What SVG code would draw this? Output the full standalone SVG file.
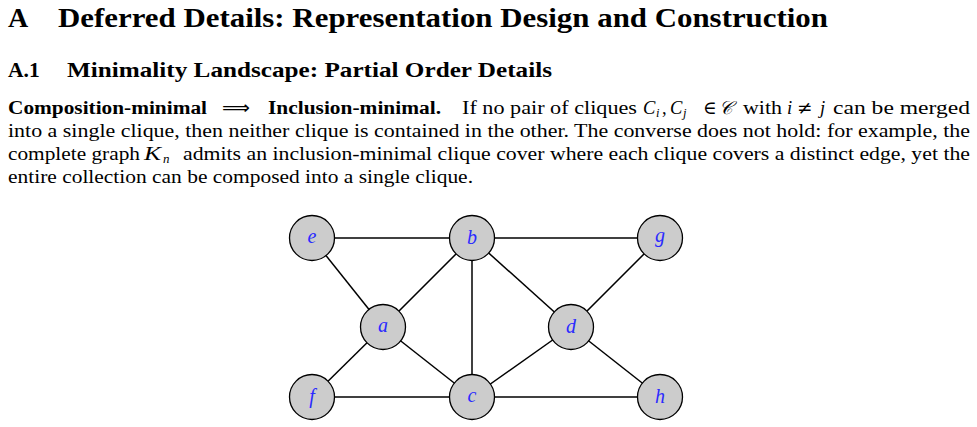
<svg xmlns="http://www.w3.org/2000/svg" width="977" height="427" viewBox="0 0 977 427">
<style>
.h1{font-family:"Liberation Serif",serif;font-weight:bold;font-size:28px;fill:#000}
.h2{font-family:"Liberation Serif",serif;font-weight:bold;font-size:21.5px;fill:#000}
.p{font-family:"Liberation Serif",serif;font-size:18.5px;fill:#000}
.b{font-weight:bold}
.m{font-style:italic}
.node circle{fill:#cccccc;stroke:#000;stroke-width:1.3}
.node text{font-family:"Liberation Serif",serif;font-style:italic;font-size:20px;fill:#2a2aff;text-anchor:middle}
.edges line{stroke:#000;stroke-width:1.5}
</style>
<rect width="977" height="427" fill="#fff"/>
<text class="h1" x="8" y="27">A</text>
<text class="h1" x="58" y="27" textLength="770" lengthAdjust="spacingAndGlyphs">Deferred Details: Representation Design and Construction</text>
<text class="h2" x="8" y="77">A.1</text>
<text class="h2" x="67" y="77" textLength="485" lengthAdjust="spacingAndGlyphs">Minimality Landscape: Partial Order Details</text>

<text class="p b" x="8" y="114" textLength="199" lengthAdjust="spacingAndGlyphs">Composition-minimal</text>
<text class="p" x="222" y="114" style="font-family:'DejaVu Sans',sans-serif" textLength="28" lengthAdjust="spacingAndGlyphs">⟹</text>
<text class="p b" x="268" y="114" textLength="173" lengthAdjust="spacingAndGlyphs">Inclusion-minimal.</text>
<text class="p" x="462" y="114" textLength="175" lengthAdjust="spacingAndGlyphs">If no pair of cliques</text>
<text class="p" y="114"><tspan class="m" x="643">C</tspan><tspan class="m" font-size="12.5" x="656" dy="3">i</tspan><tspan x="662" dy="-3">,</tspan><tspan class="m" x="670">C</tspan><tspan class="m" font-size="12.5" x="683" dy="3">j</tspan></text>
<text class="p" x="703" y="114" style="font-family:'DejaVu Serif',serif">∈</text>
<text class="p m" x="719" y="114" style="font-family:'DejaVu Serif',serif">𝒞</text>
<text class="p" x="743" y="114" textLength="39" lengthAdjust="spacingAndGlyphs">with</text>
<text class="p m" x="787" y="114">i</text>
<text class="p" x="797" y="114" style="font-family:'DejaVu Serif',serif">≠</text>
<text class="p m" x="820" y="114">j</text>
<text class="p" x="833" y="114" textLength="137" lengthAdjust="spacingAndGlyphs">can be merged</text>

<text class="p" x="8" y="137" textLength="962" lengthAdjust="spacingAndGlyphs">into a single clique, then neither clique is contained in the other. The converse does not hold: for example, the</text>
<text class="p" x="8" y="160" textLength="132" lengthAdjust="spacingAndGlyphs">complete graph</text>
<text class="p m" y="160"><tspan x="144" textLength="17" lengthAdjust="spacingAndGlyphs">K</tspan><tspan x="163" dy="3" font-size="13">n</tspan></text>
<text class="p" x="183" y="160" textLength="787" lengthAdjust="spacingAndGlyphs">admits an inclusion-minimal clique cover where each clique covers a distinct edge, yet the</text>
<text class="p" x="8" y="183" textLength="465" lengthAdjust="spacingAndGlyphs">entire collection can be composed into a single clique.</text>

<g id="edges" class="edges">
<line x1="312" y1="238" x2="472" y2="238"/>
<line x1="472" y1="238" x2="660" y2="238"/>
<line x1="312" y1="238" x2="383" y2="327"/>
<line x1="383" y1="327" x2="472" y2="238"/>
<line x1="472" y1="238" x2="472" y2="397"/>
<line x1="472" y1="238" x2="571" y2="327"/>
<line x1="660" y1="238" x2="571" y2="327"/>
<line x1="383" y1="327" x2="312" y2="397"/>
<line x1="383" y1="327" x2="472" y2="397"/>
<line x1="312" y1="397" x2="472" y2="397"/>
<line x1="472" y1="397" x2="571" y2="327"/>
<line x1="571" y1="327" x2="660" y2="397"/>
<line x1="472" y1="397" x2="660" y2="397"/>
</g>
<g id="node-e" class="node"><circle cx="312" cy="238" r="22.5"/><text x="312" y="243">e</text></g>
<g id="node-b" class="node"><circle cx="472" cy="238" r="22.5"/><text x="472" y="244">b</text></g>
<g id="node-g" class="node"><circle cx="660" cy="238" r="22.5"/><text x="660" y="242">g</text></g>
<g id="node-a" class="node"><circle cx="383" cy="327" r="22.5"/><text x="383" y="332">a</text></g>
<g id="node-d" class="node"><circle cx="571" cy="327" r="22.5"/><text x="571" y="333">d</text></g>
<g id="node-f" class="node"><circle cx="312" cy="397" r="22.5"/><text x="312" y="403">f</text></g>
<g id="node-c" class="node"><circle cx="472" cy="397" r="22.5"/><text x="472" y="402">c</text></g>
<g id="node-h" class="node"><circle cx="660" cy="397" r="22.5"/><text x="660" y="403">h</text></g>
</svg>
